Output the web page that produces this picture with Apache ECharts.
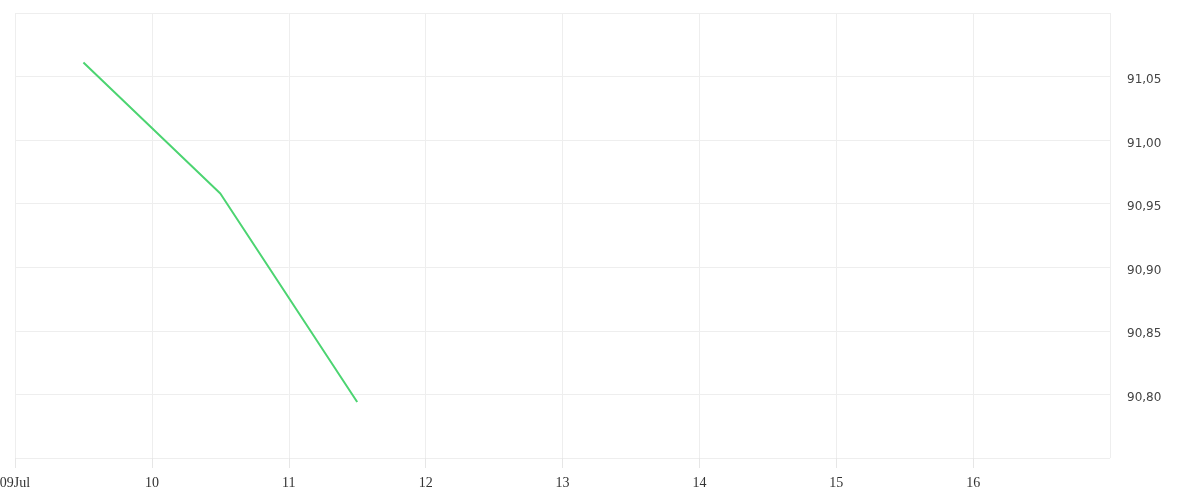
<!DOCTYPE html>
<html>
<head>
<meta charset="utf-8">
<script src="https://cdn.jsdelivr.net/npm/echarts@6/dist/echarts.min.js"></script>
<style>html,body{margin:0;padding:0;background:#fff}#c{width:1200px;height:500px}</style>
</head>
<body>
<div id="c"></div>
<script>
var dates = ['2024-07-09T12:00:00', '2024-07-10T12:00:00', '2024-07-11T12:00:00'];
var prices = [91.061, 90.958, 90.794];
var xMin = '2024-07-09T00:00:00';
var xMax = '2024-07-17T00:00:00';
var yMin = 90.75, yMax = 91.10, yStep = 0.05;

var DAY = 86400000;
var chart = echarts.init(document.getElementById('c'));
chart.setOption({
  animation: false,
  grid: {left: 15, right: 90, top: 13, bottom: 42, containLabel: false, outerBoundsMode: 'none'},
  xAxis: {
    type: 'time',
    min: new Date(xMin).getTime(),
    max: new Date(xMax).getTime(),
    interval: DAY,
    minInterval: DAY,
    maxInterval: DAY,
    axisLine: {show: false},
    axisTick: {show: true, length: 10, lineStyle: {color: '#e6e6e6'}},
    splitLine: {show: true, lineStyle: {color: '#eeeeee', width: 1}},
    axisLabel: {
      showMaxLabel: false,
      hideOverlap: false,
      margin: 18,
      color: '#333',
      fontFamily: 'Liberation Serif',
      fontSize: 14,
      formatter: function (v) {
        var d = new Date(v);
        var dd = ('0' + d.getDate()).slice(-2);
        if (d.getTime() === new Date(xMin).getTime()) return dd + 'Jul';
        return String(d.getDate());
      }
    }
  },
  yAxis: {
    type: 'value',
    position: 'right',
    min: yMin,
    max: yMax,
    interval: yStep,
    axisLine: {show: false},
    axisTick: {show: false},
    splitLine: {show: true, lineStyle: {color: '#eeeeee', width: 1}},
    axisLabel: {
      showMinLabel: false,
      showMaxLabel: false,
      margin: 17,
      verticalAlign: 'top',
      lineHeight: 7,
      color: '#444',
      fontFamily: 'DejaVu Sans',
      fontSize: 12,
      formatter: function (v) { return v.toFixed(2).replace('.', ','); }
    }
  },
  series: [{
    type: 'line',
    data: dates.map(function (d, i) { return [new Date(d).getTime(), prices[i]]; }),
    showSymbol: false,
    symbol: 'none',
    lineStyle: {color: '#4cd471', width: 2},
    itemStyle: {color: '#4cd471'}
  }]
});
</script>
</body>
</html>
